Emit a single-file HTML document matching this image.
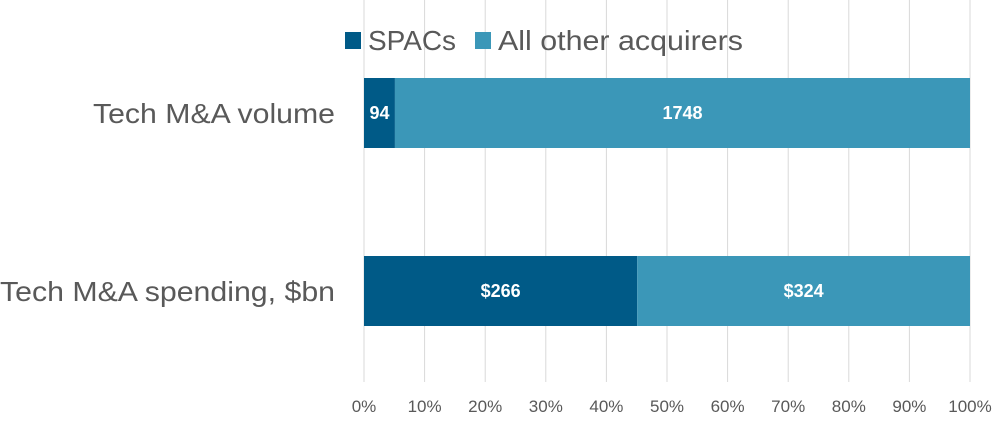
<!DOCTYPE html>
<html><head><style>
body{margin:0;background:#fff;}
svg{display:block;font-family:"Liberation Sans",sans-serif;}
</style></head><body>
<svg id="c" width="1006" height="429"></svg>
<script>
const categories=["Tech M&A volume","Tech M&A spending, $bn"];
const spacs=[94,266];
const others=[1748,324];
const spacLabels=["94","$266"];
const otherLabels=["1748","$324"];
const ticks=[0,10,20,30,40,50,60,70,80,90,100];
const svg=document.getElementById('c');
const NS='http://www.w3.org/2000/svg';
const x0=364,x1=970;
const xs=p=>x0+(x1-x0)*p/100;
const barY=[78,256],barH=70;
const catWidths=[242,335];
function mk(t,a,txt){const e=document.createElementNS(NS,t);for(const k in a)e.setAttribute(k,a[k]);if(txt!=null)e.textContent=txt;svg.appendChild(e);return e;}
ticks.forEach(t=>{
 const g=mk('line',{x1:xs(t),x2:xs(t),y1:0,y2:382,stroke:'#d9d9d9','stroke-width':1});
 
 
 const l=mk('text',{x:xs(t),y:412,'text-anchor':'middle','font-size':17,fill:'#595959'},t+'%');
 
 
});
categories.forEach((c,i)=>{
 const tot=spacs[i]+others[i];
 const p=spacs[i]/tot*100;
 const y=barY[i];
 const a=mk('rect',{x:xs(0),y:y,width:xs(p)-xs(0),height:barH,fill:'#005a87'});
 
 
 const b=mk('rect',{x:xs(p),y:y,width:xs(100)-xs(p),height:barH,fill:'#3b97b8'});
 
 
 const t1=mk('text',{x:(xs(0)+xs(p))/2,y:y+barH/2+6,'text-anchor':'middle','font-size':18,'font-weight':'bold',fill:'#fff'},spacLabels[i]);
 
 
 const t2=mk('text',{x:(xs(p)+xs(100))/2,y:y+barH/2+6,'text-anchor':'middle','font-size':18,'font-weight':'bold',fill:'#fff'},otherLabels[i]);
 
 
 const cl=mk('text',{x:335-catWidths[i],y:y+barH/2+10,'font-size':28,fill:'#595959',textLength:catWidths[i],lengthAdjust:'spacingAndGlyphs'},c);
 
 
});
const l1=mk('rect',{x:345,y:32,width:16,height:17,fill:'#005a87'});


const lt1=mk('text',{x:368,y:50,'font-size':28,fill:'#595959',textLength:88,lengthAdjust:'spacingAndGlyphs'},'SPACs');


const l2=mk('rect',{x:475,y:32,width:16,height:17,fill:'#3b97b8'});


const lt2=mk('text',{x:498,y:50,'font-size':28,fill:'#595959',textLength:245,lengthAdjust:'spacingAndGlyphs'},'All other acquirers');


</script>
</body></html>
